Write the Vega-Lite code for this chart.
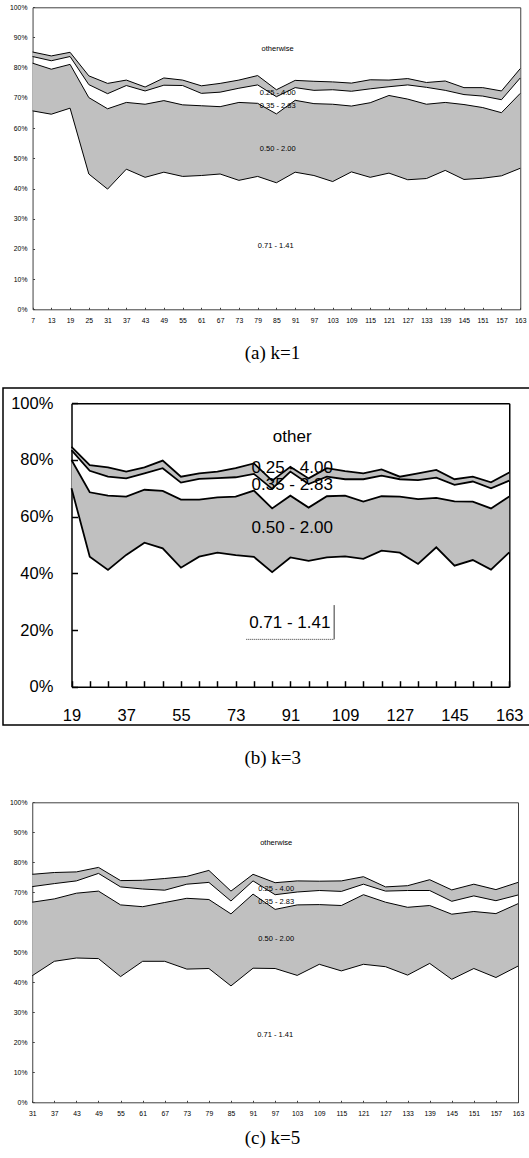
{
  "$schema": "https://vega.github.io/schema/vega-lite/v6.json",
  "padding": {"left": 2, "top": 0, "right": 0, "bottom": 0},
  "autosize": {"type": "pad"},
  "background": "white",
  "spacing": 0,
  "bounds": "flush",
  "config": {
    "view": {"stroke": null},
    "font": "Liberation Sans",
    "axis": {"grid": false, "zindex": 1, "labelOverlap": false, "labelFlush": false, "labelColor": "black"}
  },
  "datasets": {
    "a": [
      {"x": 7, "l1": 65.7, "l2": 81.5, "l3": 83.7, "l4": 85.2},
      {"x": 13, "l1": 64.6, "l2": 79.5, "l3": 82.3, "l4": 83.9},
      {"x": 19, "l1": 66.6, "l2": 81.1, "l3": 83.7, "l4": 85.1},
      {"x": 25, "l1": 44.8, "l2": 70.1, "l3": 74.4, "l4": 77.3},
      {"x": 31, "l1": 39.8, "l2": 66.4, "l3": 71.4, "l4": 74.8},
      {"x": 37, "l1": 46.4, "l2": 68.5, "l3": 74.1, "l4": 75.9},
      {"x": 43, "l1": 43.7, "l2": 67.9, "l3": 72.3, "l4": 73.6},
      {"x": 49, "l1": 45.4, "l2": 69.1, "l3": 74.2, "l4": 76.6},
      {"x": 55, "l1": 44.0, "l2": 67.7, "l3": 74.1, "l4": 75.9},
      {"x": 61, "l1": 44.3, "l2": 67.4, "l3": 71.5, "l4": 74.0},
      {"x": 67, "l1": 44.8, "l2": 67.1, "l3": 71.9, "l4": 74.8},
      {"x": 73, "l1": 42.7, "l2": 68.5, "l3": 73.2, "l4": 75.9},
      {"x": 79, "l1": 44.0, "l2": 68.2, "l3": 74.3, "l4": 77.4},
      {"x": 85, "l1": 41.9, "l2": 64.7, "l3": 70.4, "l4": 72.7},
      {"x": 91, "l1": 45.4, "l2": 69.2, "l3": 73.4, "l4": 75.8},
      {"x": 97, "l1": 44.3, "l2": 68.1, "l3": 72.5, "l4": 75.5},
      {"x": 103, "l1": 42.3, "l2": 67.9, "l3": 72.7, "l4": 75.3},
      {"x": 109, "l1": 45.5, "l2": 67.3, "l3": 72.2, "l4": 74.9},
      {"x": 115, "l1": 43.7, "l2": 68.4, "l3": 73.0, "l4": 76.0},
      {"x": 121, "l1": 45.1, "l2": 70.8, "l3": 73.7, "l4": 75.9},
      {"x": 127, "l1": 42.9, "l2": 69.6, "l3": 74.3, "l4": 76.4},
      {"x": 133, "l1": 43.3, "l2": 67.9, "l3": 73.5, "l4": 75.1},
      {"x": 139, "l1": 46.0, "l2": 68.5, "l3": 72.5, "l4": 75.6},
      {"x": 145, "l1": 43.0, "l2": 67.8, "l3": 71.1, "l4": 73.4},
      {"x": 151, "l1": 43.4, "l2": 66.8, "l3": 70.6, "l4": 73.4},
      {"x": 157, "l1": 44.2, "l2": 65.1, "l3": 69.4, "l4": 72.3},
      {"x": 163, "l1": 46.7, "l2": 71.5, "l3": 76.6, "l4": 79.7}
    ],
    "b": [
      {"x": 19, "l1": 70.0, "l2": 80.0, "l3": 83.5, "l4": 84.6},
      {"x": 25, "l1": 45.9, "l2": 68.6, "l3": 76.2, "l4": 78.2},
      {"x": 31, "l1": 41.2, "l2": 67.4, "l3": 74.1, "l4": 77.4},
      {"x": 37, "l1": 46.5, "l2": 67.1, "l3": 73.5, "l4": 75.9},
      {"x": 43, "l1": 50.8, "l2": 69.5, "l3": 75.3, "l4": 77.4},
      {"x": 49, "l1": 48.8, "l2": 69.1, "l3": 77.1, "l4": 79.8},
      {"x": 55, "l1": 42.0, "l2": 66.0, "l3": 72.0, "l4": 74.1},
      {"x": 61, "l1": 45.9, "l2": 66.0, "l3": 73.3, "l4": 75.3},
      {"x": 67, "l1": 47.3, "l2": 66.8, "l3": 73.6, "l4": 75.9},
      {"x": 73, "l1": 46.4, "l2": 67.1, "l3": 73.9, "l4": 77.1},
      {"x": 79, "l1": 45.8, "l2": 69.2, "l3": 75.1, "l4": 78.8},
      {"x": 85, "l1": 40.4, "l2": 62.9, "l3": 69.8, "l4": 72.7},
      {"x": 91, "l1": 45.6, "l2": 67.4, "l3": 75.9, "l4": 77.6},
      {"x": 97, "l1": 44.4, "l2": 63.2, "l3": 71.5, "l4": 73.5},
      {"x": 103, "l1": 45.6, "l2": 67.2, "l3": 74.1, "l4": 77.1},
      {"x": 109, "l1": 46.0, "l2": 67.4, "l3": 73.2, "l4": 76.1},
      {"x": 115, "l1": 45.1, "l2": 65.3, "l3": 73.2, "l4": 75.3},
      {"x": 121, "l1": 48.0, "l2": 67.2, "l3": 74.5, "l4": 76.7},
      {"x": 127, "l1": 47.3, "l2": 67.1, "l3": 73.2, "l4": 74.1},
      {"x": 133, "l1": 43.3, "l2": 66.2, "l3": 72.9, "l4": 75.3},
      {"x": 139, "l1": 49.2, "l2": 66.6, "l3": 73.8, "l4": 76.5},
      {"x": 145, "l1": 42.7, "l2": 65.4, "l3": 71.2, "l4": 73.2},
      {"x": 151, "l1": 44.7, "l2": 65.3, "l3": 72.4, "l4": 74.1},
      {"x": 157, "l1": 41.3, "l2": 62.9, "l3": 70.0, "l4": 72.1},
      {"x": 163, "l1": 47.4, "l2": 67.1, "l3": 72.7, "l4": 75.6}
    ],
    "c": [
      {"x": 31, "l1": 42.2, "l2": 66.7, "l3": 71.9, "l4": 76.0},
      {"x": 37, "l1": 47.0, "l2": 67.8, "l3": 72.9, "l4": 76.6},
      {"x": 43, "l1": 48.1, "l2": 69.7, "l3": 73.8, "l4": 76.8},
      {"x": 49, "l1": 47.9, "l2": 70.4, "l3": 76.3, "l4": 78.3},
      {"x": 55, "l1": 41.9, "l2": 65.8, "l3": 71.8, "l4": 73.9},
      {"x": 61, "l1": 47.0, "l2": 65.2, "l3": 71.1, "l4": 74.0},
      {"x": 67, "l1": 47.0, "l2": 66.6, "l3": 70.7, "l4": 74.6},
      {"x": 73, "l1": 44.4, "l2": 68.0, "l3": 72.7, "l4": 75.3},
      {"x": 79, "l1": 44.6, "l2": 67.6, "l3": 73.3, "l4": 77.3},
      {"x": 85, "l1": 38.8, "l2": 62.8, "l3": 67.1, "l4": 70.4},
      {"x": 91, "l1": 44.7, "l2": 69.4, "l3": 73.8, "l4": 76.0},
      {"x": 97, "l1": 44.6, "l2": 64.3, "l3": 69.2, "l4": 73.2},
      {"x": 103, "l1": 42.3, "l2": 65.8, "l3": 70.1, "l4": 73.8},
      {"x": 109, "l1": 46.0, "l2": 65.9, "l3": 70.6, "l4": 73.7},
      {"x": 115, "l1": 43.8, "l2": 65.6, "l3": 70.3, "l4": 73.8},
      {"x": 121, "l1": 46.0, "l2": 69.2, "l3": 72.7, "l4": 75.2},
      {"x": 127, "l1": 45.2, "l2": 66.7, "l3": 70.4, "l4": 71.8},
      {"x": 133, "l1": 42.4, "l2": 65.0, "l3": 70.6, "l4": 72.2},
      {"x": 139, "l1": 46.3, "l2": 65.6, "l3": 70.6, "l4": 74.2},
      {"x": 145, "l1": 41.0, "l2": 62.7, "l3": 67.0, "l4": 70.8},
      {"x": 151, "l1": 44.6, "l2": 63.6, "l3": 68.8, "l4": 72.7},
      {"x": 157, "l1": 41.6, "l2": 62.9, "l3": 67.2, "l4": 70.9},
      {"x": 163, "l1": 45.4, "l2": 66.2, "l3": 69.1, "l4": 73.3}
    ],
    "la": [
      {"t": "otherwise", "x": 85.4, "y": 86.1},
      {"t": "0.25 - 4.00", "x": 85.4, "y": 71.5},
      {"t": "0.35 - 2.83", "x": 85.4, "y": 67.3},
      {"t": "0.50 - 2.00", "x": 85.4, "y": 53.2},
      {"t": "0.71 - 1.41", "x": 84.8, "y": 20.8}
    ],
    "lb": [
      {"t": "other", "x": 91.6, "y": 88.2},
      {"t": "0.25 - 4.00", "x": 91.6, "y": 77.1},
      {"t": "0.35 - 2.83", "x": 91.6, "y": 71.2},
      {"t": "0.50 - 2.00", "x": 91.6, "y": 55.9},
      {"t": "0.71 - 1.41", "x": 90.8, "y": 22.4}
    ],
    "lbEdge": [{"x": 105.4, "y": 28.8, "y2": 16.7}],
    "lbUnder": [{"x": 76.5, "x2": 105.4, "y": 16.7}],
    "lc": [
      {"t": "otherwise", "x": 97.3, "y": 86.3},
      {"t": "0.25 - 4.00", "x": 97.3, "y": 71.1},
      {"t": "0.35 - 2.83", "x": 97.3, "y": 66.7},
      {"t": "0.50 - 2.00", "x": 97.3, "y": 54.4},
      {"t": "0.71 - 1.41", "x": 97.0, "y": 22.3}
    ]
  },
  "vconcat": [
    {
      "width": 529,
      "height": 388,
      "title": {"text": "(a) k=1", "orient": "bottom", "frame": "group", "anchor": "middle", "offset": -34.7, "baseline": "middle", "dx": 5, "font": "Liberation Serif", "fontSize": 19, "fontWeight": "normal", "color": "black"},
      "resolve": {"axis": {"x": "independent", "y": "independent"}},
      "layer": [
        {
          "data": {"name": "a"},
          "mark": {"type": "area", "color": "#c0c0c0"},
          "encoding": {
            "x": {"field": "x", "type": "quantitative",
              "scale": {"domain": [7, 163], "range": [29.55, 517.25], "nice": false, "zero": false},
              "axis": {"orient": "bottom", "offset": -78.7, "title": null, "values": [7,13,19,25,31,37,43,49,55,61,67,73,79,85,91,97,103,109,115,121,127,133,139,145,151,157,163],
                "domainColor": "#404040", "domainWidth": 1, "tickColor": "#404040", "tickSize": -2, "labelPadding": 9.8, "labelFontSize": 6.8, "labelFont": "Liberation Sans"}},
            "y": {"field": "l1", "type": "quantitative",
              "scale": {"domain": [0, 100], "range": [309.3, 7.3], "nice": false, "zero": false},
              "axis": {"orient": "left", "offset": -29.55, "title": null, "values": [0,10,20,30,40,50,60,70,80,90,100], "labelExpr": "datum.value + '%'",
                "domainColor": "#404040", "domainWidth": 1, "tickColor": "#404040", "tickSize": -2, "labelPadding": 7.6, "labelFontSize": 6.8, "labelFont": "Liberation Sans"}},
            "y2": {"field": "l2"}
          }
        },
        {
          "data": {"name": "a"},
          "mark": {"type": "area", "color": "#c0c0c0"},
          "encoding": {
            "x": {"field": "x", "type": "quantitative",
              "axis": {"orient": "top", "offset": -7.3, "title": null, "labels": false, "ticks": false, "domainColor": "#404040", "domainWidth": 1}},
            "y": {"field": "l3", "type": "quantitative",
              "axis": {"orient": "right", "offset": -11.75, "title": null, "labels": false, "ticks": false, "domainColor": "#404040", "domainWidth": 1}},
            "y2": {"field": "l4"}
          }
        },
        {
          "data": {"name": "a"},
          "transform": [{"fold": ["l1", "l2", "l3", "l4"], "as": ["band", "v"]}],
          "mark": {"type": "line", "color": "black", "strokeWidth": 1},
          "encoding": {
            "x": {"field": "x", "type": "quantitative", "axis": null},
            "y": {"field": "v", "type": "quantitative", "axis": null},
            "detail": {"field": "band"}
          }
        },
        {
          "data": {"name": "la"},
          "mark": {"type": "text", "font": "Liberation Sans", "fontSize": 7.5, "color": "black", "align": "center", "baseline": "middle"},
          "encoding": {
            "x": {"field": "x", "type": "quantitative", "axis": null},
            "y": {"field": "y", "type": "quantitative", "axis": null},
            "text": {"field": "t"}
          }
        }
      ]
    },
    {
      "width": 532,
      "height": 337,
      "view": {"stroke": "black", "strokeWidth": 1.5},
      "title": {"text": "(b) k=3", "orient": "bottom", "frame": "group", "anchor": "middle", "offset": 33.3, "baseline": "middle", "dx": 3.7, "font": "Liberation Serif", "fontSize": 19, "fontWeight": "normal", "color": "black"},
      "resolve": {"axis": {"x": "independent", "y": "independent"}},
      "layer": [
        {
          "data": {"name": "b"},
          "mark": {"type": "area", "color": "#c0c0c0"},
          "encoding": {
            "x": {"field": "x", "type": "quantitative",
              "scale": {"domain": [19, 163], "range": [68.5, 506.25], "nice": false, "zero": false},
              "axis": {"orient": "bottom", "offset": -38.3, "title": null, "values": [19,25,31,37,43,49,55,61,67,73,79,85,91,97,103,109,115,121,127,133,139,145,151,157,163],
                "labelExpr": "(datum.value - 19) % 18 == 0 ? datum.value : ''",
                "domainColor": "black", "domainWidth": 1.5, "tickColor": "black", "tickWidth": 1.5, "tickSize": -6, "labelPadding": 27, "labelFontSize": 16.5, "labelFont": "Liberation Sans"}},
            "y": {"field": "l1", "type": "quantitative",
              "scale": {"domain": [0, 100], "range": [298.7, 15.3], "nice": false, "zero": false},
              "axis": {"orient": "left", "offset": -68.5, "title": null, "values": [0,20,40,60,80,100], "labelExpr": "datum.value + '%'",
                "domainColor": "black", "domainWidth": 1.5, "tickColor": "black", "tickWidth": 1.5, "tickSize": -6, "labelPadding": 24.6, "labelFontSize": 16.5, "labelFont": "Liberation Sans"}},
            "y2": {"field": "l2"}
          }
        },
        {
          "data": {"name": "b"},
          "mark": {"type": "area", "color": "#c0c0c0"},
          "encoding": {
            "x": {"field": "x", "type": "quantitative",
              "axis": {"orient": "top", "offset": -15.3, "title": null, "labels": false, "ticks": false, "domainColor": "black", "domainWidth": 1.5}},
            "y": {"field": "l3", "type": "quantitative",
              "axis": {"orient": "right", "offset": -25.75, "title": null, "labels": false, "ticks": false, "domainColor": "black", "domainWidth": 1.5}},
            "y2": {"field": "l4"}
          }
        },
        {
          "data": {"name": "b"},
          "transform": [{"fold": ["l1", "l2", "l3", "l4"], "as": ["band", "v"]}],
          "mark": {"type": "line", "color": "black", "strokeWidth": 1.8},
          "encoding": {
            "x": {"field": "x", "type": "quantitative", "axis": null},
            "y": {"field": "v", "type": "quantitative", "axis": null},
            "detail": {"field": "band"}
          }
        },
        {
          "data": {"name": "lb"},
          "mark": {"type": "text", "font": "Liberation Sans", "fontSize": 17, "color": "black", "align": "center", "baseline": "middle"},
          "encoding": {
            "x": {"field": "x", "type": "quantitative", "axis": null},
            "y": {"field": "y", "type": "quantitative", "axis": null},
            "text": {"field": "t"}
          }
        },
        {
          "data": {"name": "lbEdge"},
          "mark": {"type": "rule", "color": "black", "strokeWidth": 0.8},
          "encoding": {
            "x": {"field": "x", "type": "quantitative", "axis": null},
            "y": {"field": "y", "type": "quantitative", "axis": null},
            "y2": {"field": "y2"}
          }
        },
        {
          "data": {"name": "lbUnder"},
          "mark": {"type": "rule", "color": "black", "strokeWidth": 0.8, "strokeDash": [1, 1]},
          "encoding": {
            "x": {"field": "x", "type": "quantitative", "axis": null},
            "x2": {"field": "x2"},
            "y": {"field": "y", "type": "quantitative", "axis": null}
          }
        }
      ]
    },
    {
      "width": 529,
      "height": 433,
      "title": {"text": "(c) k=5", "orient": "bottom", "frame": "group", "anchor": "middle", "offset": -19.7, "baseline": "middle", "dx": 5, "font": "Liberation Serif", "fontSize": 19, "fontWeight": "normal", "color": "black"},
      "resolve": {"axis": {"x": "independent", "y": "independent"}},
      "layer": [
        {
          "data": {"name": "c"},
          "mark": {"type": "area", "color": "#c0c0c0"},
          "encoding": {
            "x": {"field": "x", "type": "quantitative",
              "scale": {"domain": [31, 163], "range": [29.25, 515], "nice": false, "zero": false},
              "axis": {"orient": "bottom", "offset": -55.7, "title": null, "values": [31,37,43,49,55,61,67,73,79,85,91,97,103,109,115,121,127,133,139,145,151,157,163],
                "domainColor": "#404040", "domainWidth": 1, "tickColor": "#404040", "tickSize": -2, "labelPadding": 10.1, "labelFontSize": 6.8, "labelFont": "Liberation Sans"}},
            "y": {"field": "l1", "type": "quantitative",
              "scale": {"domain": [0, 100], "range": [377.3, 77.3], "nice": false, "zero": false},
              "axis": {"orient": "left", "offset": -29.25, "title": null, "values": [0,10,20,30,40,50,60,70,80,90,100], "labelExpr": "datum.value + '%'",
                "domainColor": "#404040", "domainWidth": 1, "tickColor": "#404040", "tickSize": -2, "labelPadding": 7.3, "labelFontSize": 6.8, "labelFont": "Liberation Sans"}},
            "y2": {"field": "l2"}
          }
        },
        {
          "data": {"name": "c"},
          "mark": {"type": "area", "color": "#c0c0c0"},
          "encoding": {
            "x": {"field": "x", "type": "quantitative",
              "axis": {"orient": "top", "offset": -77.3, "title": null, "labels": false, "ticks": false, "domainColor": "#404040", "domainWidth": 1}},
            "y": {"field": "l3", "type": "quantitative",
              "axis": {"orient": "right", "offset": -14, "title": null, "labels": false, "ticks": false, "domainColor": "#404040", "domainWidth": 1}},
            "y2": {"field": "l4"}
          }
        },
        {
          "data": {"name": "c"},
          "transform": [{"fold": ["l1", "l2", "l3", "l4"], "as": ["band", "v"]}],
          "mark": {"type": "line", "color": "black", "strokeWidth": 1},
          "encoding": {
            "x": {"field": "x", "type": "quantitative", "axis": null},
            "y": {"field": "v", "type": "quantitative", "axis": null},
            "detail": {"field": "band"}
          }
        },
        {
          "data": {"name": "lc"},
          "mark": {"type": "text", "font": "Liberation Sans", "fontSize": 7.5, "color": "black", "align": "center", "baseline": "middle"},
          "encoding": {
            "x": {"field": "x", "type": "quantitative", "axis": null},
            "y": {"field": "y", "type": "quantitative", "axis": null},
            "text": {"field": "t"}
          }
        }
      ]
    }
  ]
}
